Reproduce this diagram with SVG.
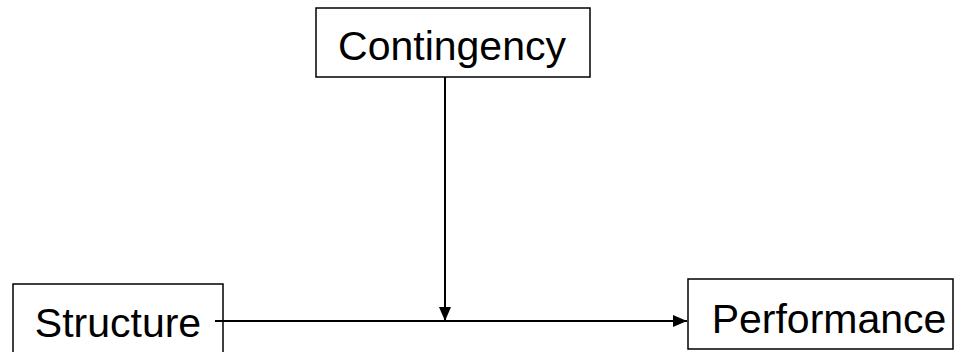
<svg xmlns="http://www.w3.org/2000/svg" width="957" height="352" viewBox="0 0 957 352">
<style>
.box{fill:#fff;stroke:#000;stroke-width:1.5}
.lbl{font-family:"Liberation Sans",Arial,sans-serif;font-size:41px;fill:#000;text-anchor:middle}
.conn{stroke:#000;stroke-width:2;fill:none}
</style>
<defs>
<marker id="ah" markerWidth="14" markerHeight="12" refX="14" refY="6" orient="auto" markerUnits="userSpaceOnUse">
<path d="M0,0 L14,6 L0,12 Z" fill="#000"/>
</marker>
</defs>
<g id="contingency">
<rect class="box" x="316" y="8" width="274" height="69"/>
<text class="lbl" x="452" y="60">Contingency</text>
</g>
<g id="structure">
<rect class="box" x="13" y="284" width="210" height="75"/>
<text class="lbl" x="118" y="337">Structure</text>
</g>
<g id="performance">
<rect class="box" x="688" y="279" width="265" height="70"/>
<text class="lbl" x="829" y="333">Performance</text>
</g>
<g id="connectors">
<line class="conn" x1="215" y1="321" x2="687" y2="321" marker-end="url(#ah)"/>
<line class="conn" x1="445" y1="77" x2="445" y2="321" marker-end="url(#ah)"/>
</g>
</svg>
